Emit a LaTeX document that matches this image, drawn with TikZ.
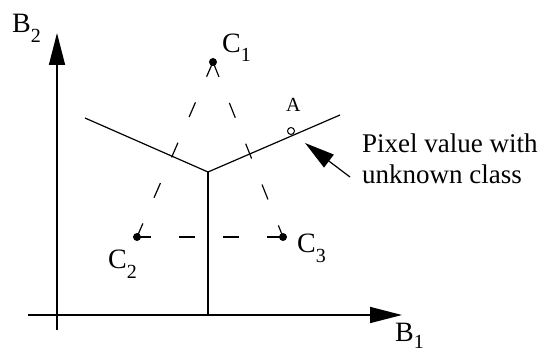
\documentclass[tikz,border=0pt]{standalone}
\usepackage{fontspec}
\setmainfont{Liberation Serif}
\usetikzlibrary{arrows.meta}
\begin{document}
\begin{tikzpicture}[x=1pt,y=-1pt,
  axis/.style={line width=1.5pt,-{Triangle[length=32pt,width=16pt]}},
  bound/.style={line width=1.2pt},
  dashline/.style={line width=1.2pt,dash pattern=on 16pt off 28pt},
  centre/.style={circle,fill=black,inner sep=0pt,minimum size=8pt},
  lbl/.style={inner sep=0pt,anchor=base west,font=\fontsize{28}{28}\selectfont},
  txt/.style={inner sep=0pt,anchor=base west,font=\fontsize{27}{32}\selectfont}]
\useasboundingbox (0,0) rectangle (539,353);
% axes
\coordinate (O2) at (57,330);
\coordinate (T2) at (57,33);
\coordinate (O1) at (28,315);
\coordinate (T1) at (402,315);
\draw[axis] (O2) -- (T2);
\draw[axis] (O1) -- (T1);
% decision boundaries
\coordinate (J) at (208,172);
\coordinate (L) at (85,118);
\coordinate (R) at (340,115);
\coordinate (D) at (208,315);
\draw[bound] (L) -- (J) -- (R);
\draw[bound] (J) -- (D);
% class centres
\node[centre] (C1) at (213,62) {};
\node[centre] (C2) at (137,237) {};
\node[centre] (C3) at (283,237) {};
\draw[dashline] (C1.center) -- (C2.center);
\draw[dashline] (C1.center) -- (C3.center);
\draw[dashline] (C3.center) -- (C2.center);
% pixel A
\node[circle,draw,line width=1pt,inner sep=0pt,minimum size=7pt] (Apt) at (291,131) {};
\node[inner sep=0pt,anchor=base west,font=\fontsize{20}{20}\selectfont] (Alab) at (286,112) {A};
% labels
\node[lbl] (B2lab) at (12,33) {B\raisebox{-10pt}{\fontsize{20}{20}\selectfont 2}};
\node[lbl] (B1lab) at (395,341) {B\raisebox{-7pt}{\fontsize{20}{20}\selectfont 1}};
\node[lbl] (C1lab) at (222,53) {C\raisebox{-9pt}{\fontsize{20}{20}\selectfont 1}};
\node[lbl] (C2lab) at (108,268) {C\raisebox{-10pt}{\fontsize{20}{20}\selectfont 2}};
\node[lbl] (C3lab) at (297,252) {C\raisebox{-10pt}{\fontsize{20}{20}\selectfont 3}};
% annotation
\node[txt] (t1) at (362,153) {Pixel value with};
\node[txt] (t2) at (362,183) {unknown class};
\coordinate (Ptip) at (305,143);
\coordinate (Ptail) at (350,177);
\draw[line width=1.2pt,-{Triangle[length=30pt,width=16pt]}] (Ptail) -- (Ptip);
\end{tikzpicture}
\end{document}
